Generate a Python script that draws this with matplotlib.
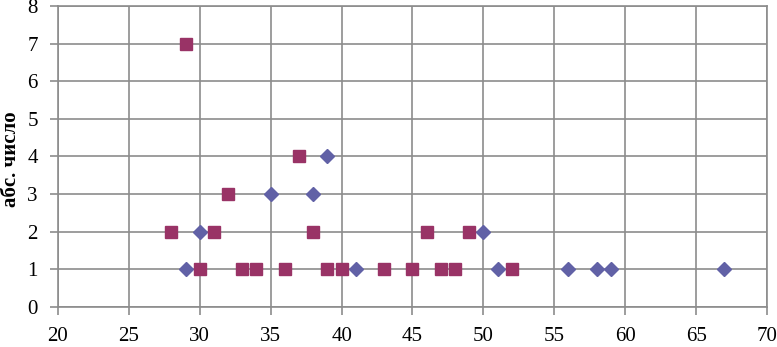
import matplotlib as mpl
mpl.use('Agg')

import matplotlib.pyplot as plt
import numpy as np

plt.rcParams['font.family'] = ['Liberation Serif', 'DejaVu Serif']

# series 1 - diamonds
x_diam = [29, 30, 35, 38, 39, 41, 50, 51, 56, 58, 59, 67]
y_diam = [1, 2, 3, 3, 4, 1, 2, 1, 1, 1, 1, 1]

# series 2 - squares
x_sq = [28, 29, 30, 31, 32, 33, 34, 36, 37, 38, 39, 40, 43, 45, 46, 47, 48, 49, 52]
y_sq = [2, 7, 1, 2, 3, 1, 1, 1, 4, 2, 1, 1, 1, 1, 2, 1, 1, 2, 1]

xticks = np.arange(20, 71, 5)
yticks = np.arange(0, 9, 1)

fig = plt.figure(figsize=(7.77, 3.47), dpi=100)
ax = fig.add_axes([0.0746, 0.115, 0.9125, 0.868])

ax.plot(x_diam, y_diam, linestyle='none', marker='D', markersize=7.5,
        color='#6161A6', zorder=3, clip_on=False)
ax.plot(x_sq, y_sq, linestyle='none', marker='s', markersize=9,
        color='#993366', zorder=4, clip_on=False)

ax.set_xlim(20, 70)
ax.set_ylim(0, 8)
ax.set_xticks(xticks)
ax.set_yticks(yticks)

ax.grid(True, color='#8c8c8c', linewidth=1.2)
ax.set_axisbelow(True)
for s in ax.spines.values():
    s.set_color('#8c8c8c')
    s.set_linewidth(1.2)

ax.tick_params(axis='both', labelsize=15, color='#8c8c8c', length=6, width=1.2)
ax.tick_params(axis='y', pad=8.5)
ax.tick_params(axis='x', pad=8)
ax.set_ylabel('абс. число', fontsize=15, fontweight='bold')
ax.yaxis.set_label_coords(-0.052, 0.49)

plt.savefig('out.png', format='png')
